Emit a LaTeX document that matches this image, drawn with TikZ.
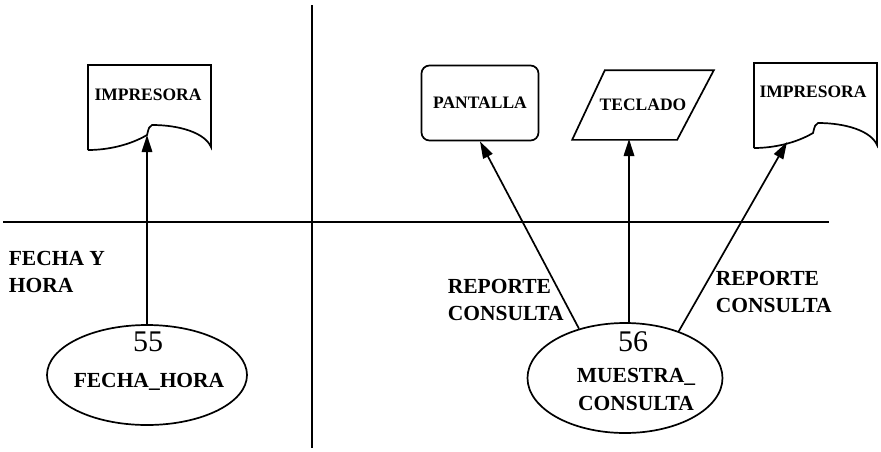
\documentclass[tikz,border=0pt]{standalone}
\usepackage{fontspec}
\setmainfont{Liberation Serif}
\usetikzlibrary{arrows.meta,shapes.geometric}

\begin{document}
\begin{tikzpicture}[
    x=1pt, y=-1pt,
    >={Triangle[length=17pt,width=10.5pt]},
    line width=1.7pt,
    proc/.style={
        draw,
        ellipse,
        inner sep=0pt
    },
    boxtext/.style={
        inner sep=0pt,
        font=\fontsize{17.5}{18}\selectfont\bfseries
    },
    flowtext/.style={
        align=left,
        anchor=west,
        inner sep=0pt,
        font=\fontsize{21.5}{27}\selectfont\bfseries
    },
    proctext/.style={
        align=center,
        inner sep=0pt,
        font=\fontsize{21.5}{28}\selectfont\bfseries
    },
    numtext/.style={
        inner sep=0pt,
        font=\fontsize{30}{30}\selectfont
    },
    flow/.style={
        ->,
        line width=1.7pt
    }
]
    \useasboundingbox (0,0) rectangle (881,451);

    % divisiones
    \draw (312,5) -- (312,448);
    \draw (3,222) -- (829,222);

    % impresoras
    \foreach \px/\py in {88/65, 754/63}{
        \draw (\px,\py+85) -- (\px,\py) -- (\px+123,\py) -- (\px+123,\py+82)
            .. controls (\px+117,\py+68) and (\px+92,\py+60) .. (\px+64,\py+60)
            .. controls (\px+61,\py+62) .. (\px+59,\py+70)
            .. controls (\px+42,\py+80) and (\px+20,\py+85) .. (\px,\py+85);
    }
    \node[boxtext] (impA) at (148,95) {IMPRESORA};
    \node[boxtext] (impB) at (813,92) {IMPRESORA};
    \coordinate (impAin) at (147,135);
    \coordinate (impBin) at (787,142);

    \node[boxtext, draw, rounded corners=8pt, minimum width=117pt,
        minimum height=75pt] (pan) at (480,103) {PANTALLA};

    \node[boxtext, minimum width=140pt, minimum height=68pt] (tec)
        at (643,105) {TECLADO};
    \draw (tec.south west) -- ++(105,0) -- (tec.north east) -- ++(-109,0) -- cycle;
    \coordinate (tecin) at (629,139);

    % procesos
    \node[proc, minimum width=200pt, minimum height=100pt] (p55) at (147,375) {};
    \node[numtext] (n55) at (148,342) {55};
    \node[proctext] (t55) at (149,382) {FECHA\_HORA};

    \node[proc, minimum width=195pt, minimum height=110pt] (p56) at (625,378) {};
    \node[numtext] (n56) at (633,342) {56};
    \node[proctext] (t56) at (636,389) {MUESTRA\_\\CONSULTA};

    \draw[flow] (p55.north) -- (impAin);
    \draw[flow] (p56.133) -- (pan.south);
    \draw[flow] (tecin |- p56.north) -- (tecin);
    \draw[flow] (p56.41) -- (impBin);

    \node[flowtext] (fh) at (8,272) {FECHA Y\\HORA};
    \node[flowtext] (rc1) at (447,300) {REPORTE\\CONSULTA};
    \node[flowtext] (rc2) at (715,292) {REPORTE\\CONSULTA};

\end{tikzpicture}
\end{document}
